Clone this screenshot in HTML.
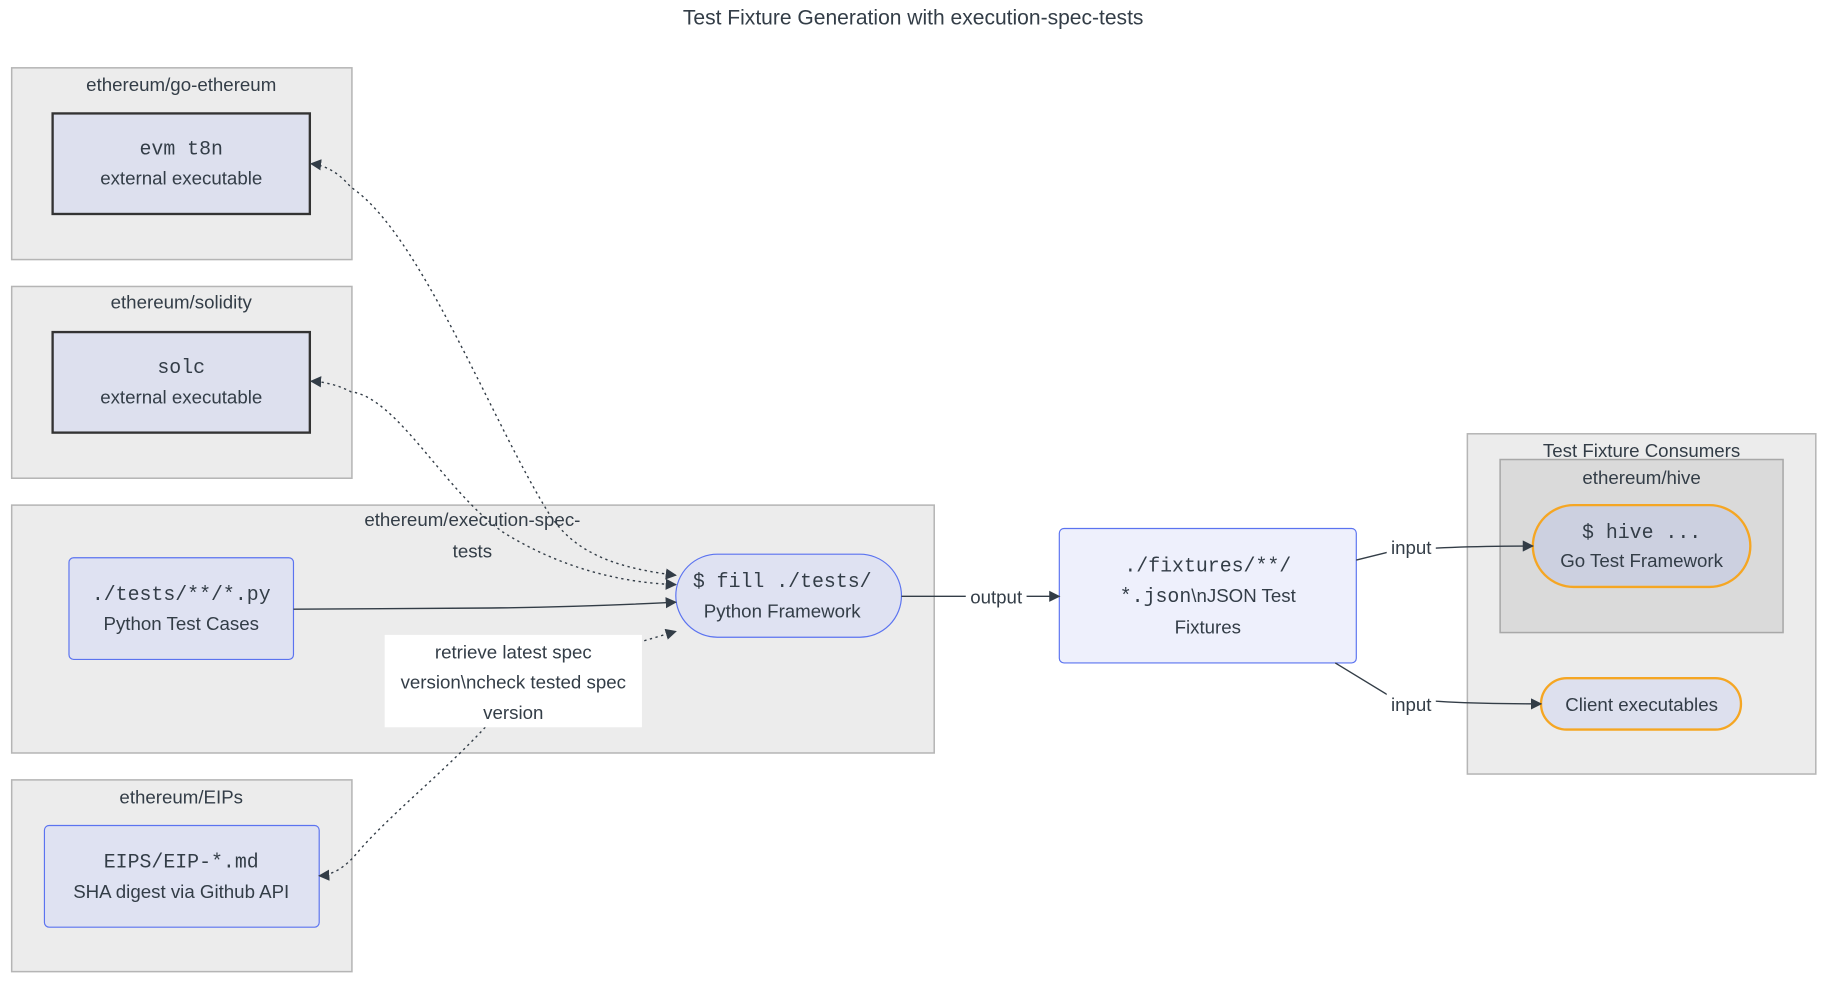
<!DOCTYPE html>
<html><head><meta charset="utf-8"><style>
html,body{margin:0;padding:0;background:#fff;width:1831px;height:981px;overflow:hidden}
text{font-family:"Liberation Sans",sans-serif;fill:#333d47;font-size:16px;text-anchor:middle}
.m{font-family:"Liberation Mono",monospace;font-size:17px}
.cl{fill:#ececec;stroke:#b5b5b5;stroke-width:1.3}
.e{fill:none;stroke:#333d47;stroke-width:1.2}
.d{fill:none;stroke:#333d47;stroke-width:1.2;stroke-dasharray:2 3}
</style></head><body>
<svg width="1831" height="981" viewBox="0 0 1566 839" xmlns="http://www.w3.org/2000/svg">
<defs>
<marker id="a" viewBox="0 0 10 10" refX="9" refY="5" markerWidth="8" markerHeight="8" orient="auto"><path d="M0,0L10,5L0,10z" fill="#333d47"/></marker>
<marker id="s" viewBox="0 0 10 10" refX="1" refY="5" markerWidth="8" markerHeight="8" orient="auto"><path d="M10,0L0,5L10,10z" fill="#333d47"/></marker>
</defs>
<text x="781" y="21" style="font-size:18px">Test Fixture Generation with execution-spec-tests</text>

<rect class="cl" x="10" y="58" width="291" height="164"/>
<text x="155" y="78">ethereum/go-ethereum</text>
<rect x="45" y="97" width="220" height="86" fill="#dde0ee" stroke="#333" stroke-width="2"/>
<text class="m" x="155" y="132">evm t8n</text><text x="155" y="158">external executable</text>

<rect class="cl" x="10" y="245" width="291" height="164"/>
<text x="155" y="264">ethereum/solidity</text>
<rect x="45" y="284" width="220" height="86" fill="#dde0ee" stroke="#333" stroke-width="2"/>
<text class="m" x="155" y="319">solc</text><text x="155" y="345">external executable</text>

<rect class="cl" x="10" y="432" width="789" height="212"/>
<text x="404" y="450">ethereum/execution-spec-</text><text x="404" y="477">tests</text>
<rect x="59" y="477" width="192" height="87" rx="4" fill="#dfe2f2" stroke="#5b73f0" stroke-width="1"/>
<text class="m" x="155" y="513">./tests/**/*.py</text><text x="155" y="539">Python Test Cases</text>
<rect x="578" y="474" width="193" height="71" rx="35.5" fill="#dfe2f2" stroke="#5b73f0" stroke-width="1"/>
<text class="m" x="669" y="502">$ fill ./tests/</text><text x="669" y="528">Python Framework</text>

<rect class="cl" x="10" y="667" width="291" height="164"/>
<text x="155" y="687">ethereum/EIPs</text>
<rect x="38" y="706" width="235" height="87" rx="4" fill="#dfe2f2" stroke="#5b73f0" stroke-width="1"/>
<text class="m" x="155" y="742">EIPS/EIP-*.md</text><text x="155" y="768">SHA digest via Github API</text>

<rect x="906" y="452" width="254" height="115" rx="4" fill="#eef0fc" stroke="#5b73f0" stroke-width="1"/>
<text class="m" x="1033" y="489">./fixtures/**/</text>
<text x="1033" y="515"><tspan class="m">*.json</tspan>\nJSON Test</text>
<text x="1033" y="542">Fixtures</text>

<rect class="cl" x="1255" y="371" width="298" height="291"/>
<text x="1404" y="391">Test Fixture Consumers</text>
<rect x="1283" y="393" width="242" height="148" fill="#dadada" stroke="#a8a8a8" stroke-width="1.3"/>
<text x="1404" y="414">ethereum/hive</text>
<rect x="1311" y="432" width="186" height="70" rx="35" fill="#ccd0e0" stroke="#f5a623" stroke-width="2"/>
<text class="m" x="1404" y="460">$ hive ...</text><text x="1404" y="485">Go Test Framework</text>
<rect x="1318" y="580" width="171" height="44" rx="22" fill="#dde0ee" stroke="#f5a623" stroke-width="2"/>
<text x="1404" y="608">Client executables</text>

<path class="e" d="M251,521 L420,520 Q500,519 578,515" marker-end="url(#a)"/>
<path class="e" d="M771,510 L906,510" marker-end="url(#a)"/>
<rect x="826" y="500" width="52" height="20" fill="#fff"/>
<text x="852" y="516">output</text>
<path class="e" d="M1160,479 L1188,472 Q1230,467 1311,467" marker-end="url(#a)"/>
<rect x="1186" y="458" width="42" height="20" fill="#fff"/>
<text x="1207" y="474">input</text>
<path class="e" d="M1142,567 L1188,595 Q1220,602 1318,602" marker-end="url(#a)"/>
<rect x="1186" y="592" width="42" height="20" fill="#fff"/>
<text x="1207" y="608">input</text>

<path class="d" d="M578,492 C520,485 490,470 470,440 C420,360 360,200 300,160 Q285,142 266,140" marker-start="url(#s)" marker-end="url(#a)"/>
<path class="d" d="M578,500 C520,498 470,480 430,455 C380,420 340,340 300,335 Q285,327 266,326" marker-start="url(#s)" marker-end="url(#a)"/>
<path class="d" d="M551,548 L578,540" marker-end="url(#a)"/>
<path class="d" d="M415,622 C380,660 330,700 305,730 Q290,748 273,749" marker-end="url(#a)"/>
<rect x="329" y="543" width="220" height="79" fill="#fff"/>
<text x="439" y="563">retrieve latest spec</text>
<text x="439" y="589">version\ncheck tested spec</text>
<text x="439" y="615">version</text>
</svg>
</body></html>
